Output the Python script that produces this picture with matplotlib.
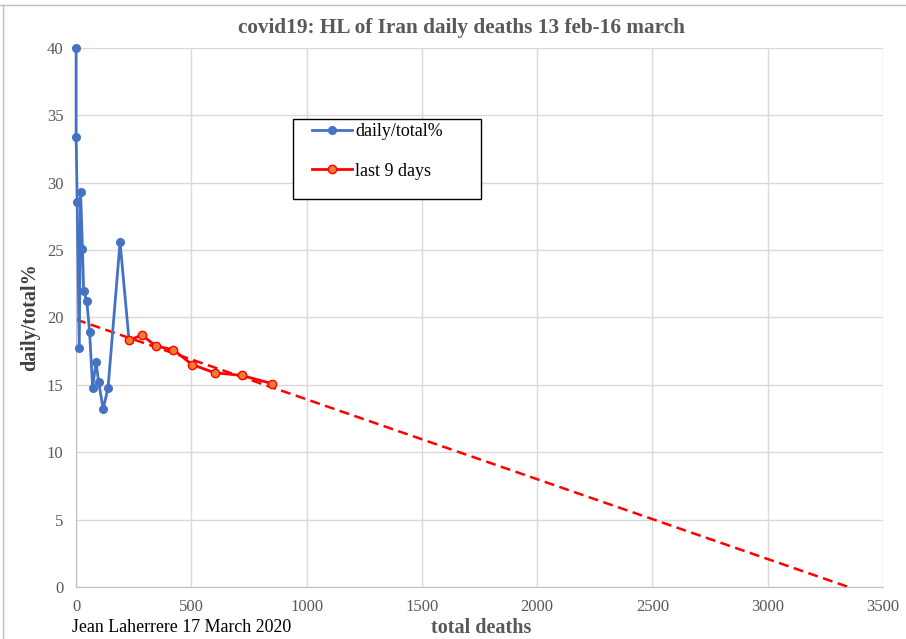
import matplotlib.pyplot as plt
from matplotlib.patches import Rectangle
import numpy as np

# daily/total % versus total deaths
total_blue = [0.5, 0.5, 5, 14, 20, 28, 33, 47, 59, 72, 87, 98, 118, 139, 191, 230]
pct_blue = [40.0, 33.4, 28.6, 17.7, 29.3, 25.1, 22.0, 21.2, 18.9, 14.8, 16.7, 15.2, 13.2, 14.8, 25.6, 18.3]

total_red = [230, 285, 345, 422, 504, 601, 718, 849]
pct_red = [18.3, 18.7, 17.9, 17.6, 16.5, 15.9, 15.7, 15.1]

# linear trend of the last days
trend_x = [0, 3350]
trend_y = [19.85, 0.0]

GRAY = "#595959"
plt.rcParams["font.family"] = ["Liberation Serif", "DejaVu Serif"]

fig = plt.figure(figsize=(9.06, 6.39), dpi=100)
ax = fig.add_axes([0.0839, 0.0814, 0.8907, 0.8435])

ax.plot(trend_x, trend_y, color="red", linestyle=(0, (4, 2.2)), linewidth=1.8, zorder=2)
ax.plot(total_blue, pct_blue, color="#4472C4", linewidth=2.0, marker="o",
        markersize=5.5, label="daily/total%", zorder=3, clip_on=False)
ax.plot(total_red, pct_red, color="red", linewidth=2.0, marker="o", markersize=6,
        markerfacecolor="#ED7D31", markeredgecolor="red", markeredgewidth=1,
        label="last 9 days", zorder=4)

ax.set_xlim(0, 3500)
ax.set_ylim(0, 40)
ax.set_xticks(np.arange(0, 3501, 500))
ax.set_yticks(np.arange(0, 41, 5))
ax.grid(True, color="#D9D9D9", linewidth=1)
ax.set_axisbelow(True)
for side in ["top", "right"]:
    ax.spines[side].set_visible(False)
for side in ["left", "bottom"]:
    ax.spines[side].set_color("#BFBFBF")
ax.tick_params(length=0, labelsize=12, labelcolor=GRAY, pad=9)

ax.set_ylabel("daily/total%", fontsize=14.5, fontweight="bold", color="#404040", labelpad=5)
fig.text(461 / 906, 1 - 27.5 / 639, "covid19: HL of Iran daily deaths 13 feb-16 march",
         ha="center", va="center", fontsize=15.3, fontweight="bold", color=GRAY)

fig.text(0.531, 1 - 628 / 639, "total deaths", ha="center", va="center", fontsize=14.5,
         fontweight="bold", color=GRAY)
fig.text(0.079, 1 - 628 / 639, "Jean Laherrere 17 March 2020", ha="left", va="center",
         fontsize=12.9, color="black")

# legend box (Excel style, extra room at the bottom)
box = Rectangle((292.7 / 906, 1 - 199 / 639), 188.6 / 906, 80.3 / 639,
                transform=fig.transFigure, facecolor="white", edgecolor="black",
                linewidth=1, zorder=4.5)
ax.add_patch(box)
box.set_clip_on(False)
leg = ax.legend(loc="upper left", bbox_to_anchor=(312 / 906, 1 - 123 / 639),
                bbox_transform=fig.transFigure, fontsize=12.9, frameon=False,
                borderpad=0, borderaxespad=0, labelspacing=1.27,
                handlelength=2.23, handletextpad=0.17)
leg.set_zorder(5)

# outer chart border (top and left edges visible in the crop)
fig.add_artist(plt.Line2D([0, 1], [0.992, 0.992], color="#BFBFBF", linewidth=1))
fig.add_artist(plt.Line2D([0.003, 0.003], [0, 0.992], color="#BFBFBF", linewidth=1))

fig.savefig("out.png", dpi=100)
